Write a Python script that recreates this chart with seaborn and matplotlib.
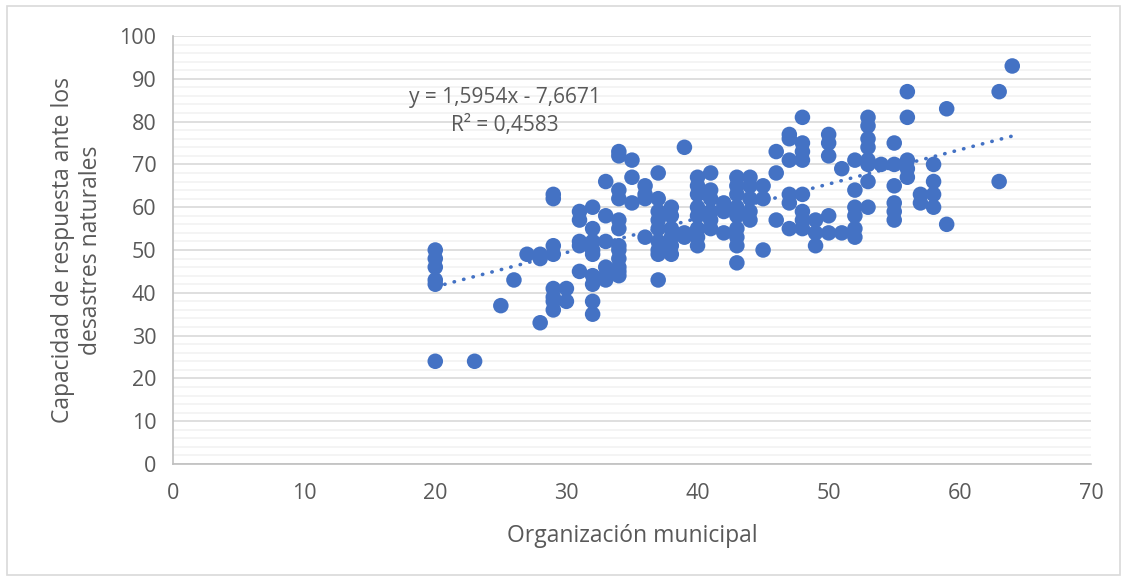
import numpy as np
import pandas as pd
import seaborn as sns
import matplotlib.pyplot as plt
from matplotlib.patches import Rectangle
from matplotlib.ticker import MultipleLocator

# Data (Organización municipal vs capacidad de respuesta)
organizacion = [20, 20, 20, 20, 20, 20, 23, 25, 26, 27, 28, 28, 28,
                29, 29, 29, 29, 29, 29, 29, 29, 30, 30,
                31, 31, 31, 31, 31,
                32, 32, 32, 32, 32, 32, 32, 32, 32,
                33, 33, 33, 33, 33, 33,
                34, 34, 34, 34, 34, 34, 34, 34, 34, 34, 34, 34,
                35, 35, 35, 36, 36, 36, 36,
                37, 37, 37, 37, 37, 37, 37, 37, 37,
                38, 38, 38, 38, 38, 38, 39, 39, 39,
                40, 40, 40, 40, 40, 40, 40, 40,
                41, 41, 41, 41, 41, 41, 42, 42, 42, 42,
                43, 43, 43, 43, 43, 43, 43, 43, 43,
                44, 44, 44, 44, 44, 45, 45, 45, 46, 46, 46,
                47, 47, 47, 47, 47, 47,
                48, 48, 48, 48, 48, 48, 48, 48,
                49, 49, 49, 50, 50, 50, 50, 50, 51, 51,
                52, 52, 52, 52, 52, 52,
                53, 53, 53, 53, 53, 53, 53, 53, 54,
                55, 55, 55, 55, 55, 55, 56, 56, 56, 56, 56,
                57, 57, 58, 58, 58, 58, 59, 59, 63, 63, 64]
capacidad = [50, 48, 46, 43, 42, 24, 24, 37, 43, 49, 49, 48, 33,
             63, 62, 51, 49, 41, 39, 38, 36, 41, 38,
             59, 57, 52, 51, 45,
             60, 55, 52, 50, 49, 44, 42, 38, 35,
             66, 58, 52, 46, 44, 43,
             73, 72, 64, 62, 57, 55, 51, 50, 48, 46, 45, 44,
             71, 67, 61, 65, 63, 62, 53,
             68, 62, 59, 57, 55, 52, 50, 49, 43,
             60, 58, 55, 53, 51, 49, 74, 54, 53,
             67, 65, 63, 60, 58, 55, 53, 51,
             68, 64, 62, 59, 57, 55, 61, 60, 59, 54,
             67, 65, 63, 60, 58, 55, 53, 51, 47,
             67, 65, 62, 59, 57, 65, 62, 50, 73, 68, 57,
             77, 76, 71, 63, 61, 55,
             81, 75, 73, 71, 63, 59, 57, 55,
             57, 54, 51, 77, 75, 72, 58, 54, 69, 54,
             71, 64, 60, 58, 55, 53,
             81, 79, 76, 74, 71, 70, 66, 60, 70,
             75, 70, 65, 61, 59, 57, 87, 81, 71, 69, 67,
             63, 61, 70, 66, 63, 60, 83, 56, 87, 66, 93]

# Label of the trend line as printed on the chart
ecuacion = 'y = 1,5954x - 7,6671'
r2_texto = 'R² = 0,4583'

df = pd.DataFrame({'org': organizacion, 'cap': capacidad})

sns.set_theme(style='white')
plt.rcParams['font.family'] = ['Open Sans', 'DejaVu Sans']

AZUL = '#4472C4'
GRIS = '#595959'

fig = plt.figure(figsize=(11.27, 5.81), dpi=100)
ax = fig.add_axes([0.1535, 0.2014, 0.8145, 0.7366])

# gridlines (major + minor), drawn below the points
ax.yaxis.set_major_locator(MultipleLocator(10))
ax.yaxis.set_minor_locator(MultipleLocator(2))
ax.xaxis.set_major_locator(MultipleLocator(10))
ax.grid(axis='y', which='major', color='#D9D9D9', linewidth=1.2)
ax.grid(axis='y', which='minor', color='#F2F2F2', linewidth=1.2)
ax.set_axisbelow(True)

sns.scatterplot(data=df, x='org', y='cap', ax=ax, color=AZUL, s=125,
                edgecolor='none', linewidth=0, alpha=1, zorder=3)

# dotted linear trend line fitted on the data
sns.regplot(data=df, x='org', y='cap', ax=ax, scatter=False, ci=None,
            truncate=True,
            line_kws=dict(color=AZUL, linewidth=2.6, linestyle=(0, (0.1, 2.6)),
                          dash_capstyle='round', zorder=4))

ax.text(25.3, 85.7, ecuacion, ha='center', va='center',
        fontsize=15, color=GRIS)
ax.text(25.3, 79.0, r2_texto, ha='center', va='center',
        fontsize=15, color=GRIS)

ax.set_xlim(0, 70)
ax.set_ylim(0, 100)

for side in ['top', 'right']:
    ax.spines[side].set_visible(False)
for side in ['left', 'bottom']:
    ax.spines[side].set_color('#BFBFBF')
    ax.spines[side].set_linewidth(1.2)

ax.tick_params(axis='both', which='major', labelsize=15.5, labelcolor=GRIS,
               color='#BFBFBF', length=6, width=1.2, direction='out')
ax.tick_params(axis='y', which='minor', length=0)
ax.tick_params(axis='x', pad=8)
ax.tick_params(axis='y', pad=6)

ax.set_xlabel('Organización municipal', fontsize=16.5, color=GRIS, labelpad=14)
ax.set_ylabel('Capacidad de respuesta ante los\ndesastres naturales',
              fontsize=16.5, color=GRIS, labelpad=12)

# outer chart border
fig.patches.append(Rectangle((0.0062, 0.0103), 0.9876, 0.9794,
                             transform=fig.transFigure, fill=False,
                             edgecolor='#D9D9D9', linewidth=1.2))

plt.savefig('out.png', dpi=100)
